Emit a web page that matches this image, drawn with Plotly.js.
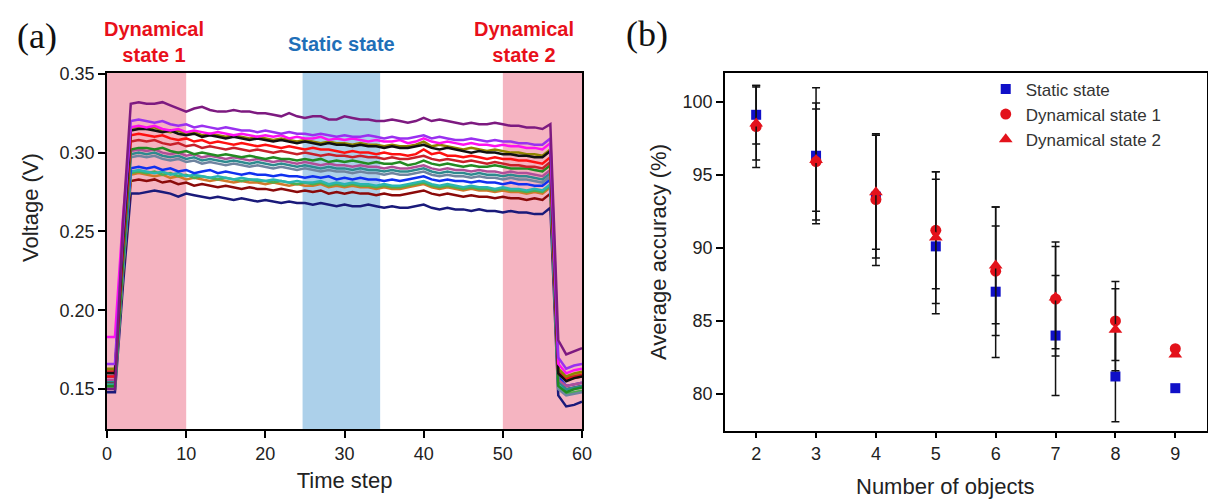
<!DOCTYPE html>
<html>
<head>
<meta charset="utf-8">
<script src="https://cdn.plot.ly/plotly-3.0.1.min.js"></script>
<style>html,body{margin:0;padding:0;background:#fff;}#chart{width:1208px;height:503px;}</style>
</head>
<body>
<div id="chart"></div>
<script>
// ---------- Panel (a): voltage vs time step ----------
const timeSteps = [0,1,2,3,4,5,6,7,8,9,10,11,12,13,14,15,16,17,18,19,20,21,22,23,24,25,26,27,28,29,30,31,32,33,34,35,36,37,38,39,40,41,42,43,44,45,46,47,48,49,50,51,52,53,54,55,56,57,58,59,60];

const vPurple = [0.150,0.150,0.255,0.331,0.332,0.331,0.331,0.332,0.330,0.328,
0.326,0.328,0.329,0.327,0.326,0.326,0.327,0.326,0.326,0.325,
0.325,0.324,0.323,0.325,0.323,0.322,0.323,0.323,0.321,0.321,
0.323,0.322,0.321,0.321,0.320,0.320,0.321,0.320,0.319,0.320,
0.322,0.320,0.321,0.320,0.319,0.318,0.319,0.318,0.318,0.319,
0.318,0.317,0.317,0.316,0.316,0.315,0.318,0.181,0.172,0.174,0.176];
const vViolet = [0.166,0.166,0.248,0.320,0.321,0.320,0.319,0.320,0.318,0.317,
0.318,0.316,0.317,0.316,0.315,0.316,0.315,0.314,0.314,0.313,
0.314,0.313,0.312,0.313,0.312,0.312,0.311,0.312,0.311,0.310,
0.311,0.310,0.310,0.311,0.310,0.309,0.310,0.309,0.309,0.310,
0.311,0.309,0.310,0.309,0.308,0.308,0.309,0.308,0.307,0.308,
0.307,0.307,0.306,0.306,0.305,0.305,0.309,0.170,0.163,0.165,0.166];
const vMagenta = [0.183,0.183,0.258,0.316,0.317,0.316,0.317,0.315,0.314,0.315,
0.313,0.314,0.313,0.312,0.313,0.312,0.311,0.312,0.311,0.310,
0.311,0.310,0.311,0.309,0.310,0.309,0.309,0.310,0.308,0.309,
0.308,0.309,0.308,0.307,0.308,0.307,0.307,0.308,0.306,0.307,
0.309,0.307,0.306,0.307,0.306,0.305,0.306,0.305,0.305,0.304,
0.305,0.304,0.304,0.303,0.303,0.302,0.306,0.166,0.160,0.162,0.163];
const vBlack = [0.160,0.160,0.243,0.314,0.315,0.315,0.314,0.313,0.314,0.312,
0.311,0.312,0.310,0.311,0.310,0.309,0.310,0.309,0.308,0.309,
0.308,0.307,0.308,0.307,0.306,0.307,0.306,0.305,0.306,0.305,
0.305,0.304,0.305,0.304,0.304,0.303,0.304,0.303,0.303,0.304,
0.305,0.303,0.302,0.303,0.302,0.301,0.300,0.301,0.300,0.300,
0.299,0.299,0.298,0.298,0.297,0.297,0.301,0.160,0.155,0.157,0.158];
const vOlive = [0.163,0.163,0.246,0.316,0.316,0.315,0.316,0.314,0.313,0.314,
0.312,0.313,0.311,0.312,0.311,0.310,0.311,0.310,0.309,0.310,
0.309,0.308,0.309,0.308,0.307,0.308,0.307,0.306,0.307,0.306,
0.306,0.305,0.306,0.305,0.305,0.304,0.305,0.304,0.304,0.305,
0.307,0.304,0.305,0.304,0.303,0.302,0.303,0.302,0.301,0.302,
0.301,0.300,0.300,0.299,0.299,0.298,0.302,0.163,0.158,0.160,0.161];
const vRed = [0.158,0.158,0.240,0.311,0.312,0.311,0.310,0.311,0.309,0.308,
0.309,0.307,0.308,0.306,0.307,0.306,0.305,0.306,0.305,0.304,
0.305,0.304,0.303,0.304,0.303,0.302,0.303,0.302,0.302,0.301,
0.300,0.301,0.300,0.300,0.299,0.300,0.299,0.299,0.298,0.299,
0.302,0.299,0.300,0.298,0.298,0.297,0.298,0.297,0.296,0.297,
0.296,0.296,0.295,0.295,0.294,0.293,0.297,0.160,0.156,0.157,0.158];
const vCrimson = [0.161,0.161,0.240,0.307,0.308,0.307,0.308,0.306,0.305,0.306,
0.304,0.305,0.303,0.304,0.303,0.302,0.303,0.302,0.301,0.302,
0.301,0.300,0.301,0.300,0.299,0.300,0.299,0.298,0.299,0.298,
0.298,0.297,0.298,0.297,0.297,0.296,0.297,0.296,0.296,0.297,
0.298,0.296,0.295,0.296,0.295,0.294,0.295,0.294,0.293,0.294,
0.293,0.292,0.292,0.291,0.291,0.290,0.294,0.161,0.157,0.158,0.159];
const vGreen = [0.152,0.152,0.230,0.302,0.303,0.303,0.302,0.303,0.301,0.300,
0.301,0.299,0.300,0.299,0.298,0.299,0.298,0.297,0.298,0.297,
0.296,0.297,0.296,0.296,0.295,0.296,0.295,0.296,0.294,0.295,
0.294,0.295,0.294,0.293,0.294,0.293,0.293,0.294,0.292,0.293,
0.295,0.293,0.292,0.293,0.292,0.291,0.292,0.291,0.291,0.292,
0.291,0.290,0.290,0.290,0.289,0.288,0.292,0.152,0.148,0.150,0.151];
const vOrchid = [0.156,0.156,0.232,0.301,0.302,0.301,0.302,0.300,0.299,0.300,
0.298,0.299,0.297,0.298,0.297,0.296,0.297,0.296,0.295,0.296,
0.295,0.294,0.295,0.294,0.293,0.294,0.293,0.292,0.293,0.292,
0.292,0.291,0.292,0.291,0.291,0.290,0.291,0.290,0.290,0.291,
0.292,0.290,0.289,0.290,0.289,0.289,0.288,0.289,0.288,0.288,
0.287,0.288,0.287,0.287,0.286,0.285,0.289,0.156,0.152,0.153,0.154];
const vTeal = [0.155,0.155,0.230,0.299,0.300,0.299,0.300,0.298,0.297,0.298,
0.296,0.297,0.295,0.296,0.295,0.294,0.295,0.294,0.293,0.294,
0.293,0.292,0.293,0.292,0.291,0.292,0.291,0.290,0.291,0.290,
0.290,0.289,0.290,0.289,0.289,0.288,0.289,0.288,0.288,0.289,
0.290,0.288,0.287,0.288,0.287,0.287,0.286,0.287,0.286,0.286,
0.285,0.286,0.285,0.285,0.284,0.283,0.287,0.155,0.150,0.151,0.152];
const vSlate = [0.150,0.150,0.226,0.297,0.298,0.297,0.298,0.296,0.295,0.296,
0.294,0.295,0.293,0.294,0.293,0.292,0.293,0.292,0.291,0.292,
0.291,0.290,0.291,0.290,0.289,0.290,0.289,0.288,0.289,0.288,
0.288,0.287,0.288,0.287,0.287,0.286,0.287,0.286,0.286,0.287,
0.288,0.286,0.285,0.286,0.285,0.285,0.284,0.285,0.284,0.284,
0.283,0.284,0.283,0.283,0.282,0.281,0.285,0.150,0.146,0.147,0.148];
const vBlue = [0.158,0.158,0.228,0.290,0.291,0.290,0.291,0.289,0.290,0.288,
0.289,0.287,0.288,0.289,0.287,0.288,0.287,0.286,0.287,0.286,
0.286,0.285,0.286,0.285,0.285,0.284,0.285,0.284,0.285,0.283,
0.284,0.283,0.284,0.283,0.283,0.282,0.283,0.282,0.283,0.284,
0.285,0.283,0.282,0.283,0.282,0.282,0.281,0.282,0.281,0.281,
0.280,0.281,0.280,0.280,0.279,0.279,0.283,0.158,0.152,0.153,0.154];
const vSeaGreen = [0.153,0.153,0.225,0.288,0.289,0.288,0.287,0.288,0.286,0.287,
0.285,0.286,0.285,0.284,0.285,0.284,0.283,0.284,0.283,0.283,
0.282,0.283,0.282,0.281,0.282,0.281,0.281,0.282,0.280,0.281,
0.280,0.281,0.280,0.280,0.279,0.280,0.279,0.279,0.280,0.281,
0.282,0.280,0.279,0.280,0.279,0.278,0.279,0.278,0.278,0.277,
0.278,0.277,0.277,0.276,0.277,0.276,0.280,0.153,0.149,0.150,0.151];
const vMidGreen = [0.151,0.151,0.223,0.287,0.288,0.287,0.288,0.286,0.287,0.285,
0.286,0.284,0.285,0.284,0.283,0.284,0.283,0.282,0.283,0.282,
0.282,0.281,0.282,0.281,0.280,0.281,0.280,0.281,0.279,0.280,
0.279,0.280,0.279,0.279,0.278,0.279,0.278,0.278,0.279,0.280,
0.281,0.279,0.278,0.279,0.278,0.277,0.278,0.277,0.277,0.276,
0.277,0.276,0.276,0.275,0.276,0.275,0.279,0.151,0.147,0.148,0.149];
const vOrange = [0.162,0.162,0.228,0.286,0.287,0.286,0.285,0.286,0.284,0.285,
0.283,0.284,0.283,0.282,0.283,0.282,0.281,0.282,0.281,0.281,
0.280,0.281,0.280,0.279,0.280,0.279,0.279,0.280,0.278,0.279,
0.278,0.279,0.278,0.278,0.277,0.278,0.277,0.277,0.278,0.279,
0.280,0.278,0.277,0.278,0.277,0.276,0.277,0.276,0.276,0.275,
0.276,0.275,0.275,0.274,0.275,0.274,0.278,0.162,0.158,0.159,0.160];
const vDarkRed = [0.154,0.154,0.222,0.282,0.283,0.282,0.283,0.281,0.282,0.280,
0.281,0.279,0.280,0.279,0.278,0.279,0.278,0.277,0.278,0.277,
0.277,0.276,0.277,0.276,0.275,0.276,0.275,0.276,0.274,0.275,
0.274,0.275,0.274,0.274,0.273,0.274,0.273,0.273,0.274,0.275,
0.276,0.274,0.273,0.274,0.273,0.272,0.273,0.272,0.272,0.271,
0.272,0.271,0.271,0.270,0.271,0.270,0.274,0.154,0.150,0.151,0.152];
const vNavy = [0.148,0.148,0.215,0.274,0.274,0.275,0.276,0.275,0.274,0.272,
0.274,0.273,0.272,0.271,0.272,0.271,0.270,0.271,0.270,0.269,
0.270,0.269,0.268,0.269,0.268,0.268,0.267,0.268,0.267,0.266,
0.267,0.266,0.266,0.267,0.266,0.265,0.266,0.265,0.265,0.266,
0.267,0.265,0.264,0.265,0.264,0.264,0.263,0.264,0.263,0.263,
0.262,0.263,0.262,0.262,0.261,0.261,0.265,0.146,0.139,0.140,0.142];

const voltageSeries = [vNavy, vDarkRed, vOrange, vMidGreen, vSeaGreen, vBlue, vSlate, vTeal, vOrchid, vGreen, vCrimson, vRed, vOlive, vBlack, vMagenta, vViolet, vPurple];
const voltageColors = ['#1a1a7a','#8b0a0a','#d2782a','#4caf50','#2ab5b0','#1030f0','#6f84a0','#2f8a8f','#b04f98','#228b22','#c8202a','#ff1010','#8f8400','#111111','#ff10f0','#9a30f0','#7d1a80'];

// Shaded regions (time-step ranges)
const regionDyn1 = [0, 10];
const regionStatic = [24.7, 34.5];
const regionDyn2 = [50, 60];

// ---------- Panel (b): accuracy vs number of objects ----------
const numObjects = [2,3,4,5,6,7,8,9];
const accStatic = [99.1, 96.3, 93.5, 90.1, 87.0, 84.0, 81.2, 80.4];
const errStatic = [2.0, 4.65, 4.2, 4.6, 4.5, 4.1, 3.1, 0];
const accDyn1 = [98.3, 95.9, 93.3, 91.2, 88.4, 86.5, 85.0, 83.1];
const errDyn1 = [2.8, 4.0, 4.5, 4.0, 4.4, 3.9, 2.7, 0];
const accDyn2 = [98.5, 96.0, 93.8, 90.7, 88.8, 86.6, 84.4, 82.7];
const errDyn2 = [2.5, 3.5, 3.9, 4.5, 4.0, 3.5, 2.8, 0];

const traces = [];
voltageSeries.forEach((ys, i) => {
  traces.push({
    type: 'scatter', mode: 'lines', x: timeSteps, y: ys,
    xaxis: 'x', yaxis: 'y', showlegend: false, hoverinfo: 'skip',
    line: {color: voltageColors[i], width: 2.5}
  });
});

const errStyle = (arr) => ({type: 'data', array: arr, visible: true, color: '#111', thickness: 1.5, width: 4});
traces.push({
  type: 'scatter', mode: 'markers', name: 'Static state', x: numObjects, y: accStatic,
  xaxis: 'x2', yaxis: 'y2', error_y: errStyle(errStatic),
  marker: {symbol: 'square', size: 10, color: '#1010c8'}
});
traces.push({
  type: 'scatter', mode: 'markers', name: 'Dynamical state 1', x: numObjects, y: accDyn1,
  xaxis: 'x2', yaxis: 'y2', error_y: errStyle(errDyn1),
  marker: {symbol: 'circle', size: 11, color: '#e3121b'}
});
traces.push({
  type: 'scatter', mode: 'markers', name: 'Dynamical state 2', x: numObjects, y: accDyn2,
  xaxis: 'x2', yaxis: 'y2', error_y: errStyle(errDyn2),
  marker: {symbol: 'triangle-up', size: 12, color: '#e3121b'}
});

const tickFont = {family: 'Arial, Liberation Sans, sans-serif', size: 18, color: '#222'};
const axisBase = {
  showline: true, linecolor: '#000', linewidth: 2, mirror: true,
  ticks: 'outside', ticklen: 7, tickwidth: 2, tickcolor: '#000',
  showgrid: false, zeroline: false, tickfont: tickFont, automargin: false
};
const titleFont = {family: 'Arial, Liberation Sans, sans-serif', size: 22, color: '#222'};
const redTxt = '#e8101a';
const blueTxt = '#1f6fb8';
const boldFont = (c) => ({family: 'Arial, Liberation Sans, sans-serif', size: 20, color: c, weight: 'bold'});

const shade = (r, color) => ({
  type: 'rect', xref: 'x', yref: 'y domain', x0: r[0], x1: r[1], y0: 0, y1: 1,
  fillcolor: color, line: {width: 0}, layer: 'below'
});

// helper for paper-positioned text given in pixel centres
const W = 1208, H = 503;
const txt = (text, px, py, font, extra) => Object.assign({
  text: text, xref: 'paper', yref: 'paper', x: px / W, y: 1 - py / H,
  xanchor: 'center', yanchor: 'middle', showarrow: false, font: font
}, extra || {});

const layout = {
  width: W, height: H,
  margin: {l: 0, r: 0, t: 0, b: 0},
  paper_bgcolor: '#fff', plot_bgcolor: 'rgba(0,0,0,0)',
  showlegend: true,
  xaxis: Object.assign({}, axisBase, {
    domain: [0.0886, 0.4818], range: [0, 60], tick0: 0, dtick: 10,
    title: {text: 'Time step', font: titleFont, standoff: 10}
  }),
  yaxis: Object.assign({}, axisBase, {
    domain: [0.1471, 0.8549], range: [0.1247, 0.3505], tick0: 0.15, dtick: 0.05,
    tickformat: '.2f'
  }),
  xaxis2: Object.assign({}, axisBase, {
    domain: [0.6002, 0.9992], range: [1.48, 9.53], tick0: 2, dtick: 1, anchor: 'y2', ticklen: 5
  }),
  yaxis2: Object.assign({}, axisBase, {
    domain: [0.1431, 0.8549], range: [77.47, 101.96], tick0: 80, dtick: 5, anchor: 'x2',
    title: {text: 'Average accuracy (%)', font: titleFont, standoff: 10}
  }),
  legend: {
    x: 0.816, y: 0.858, xanchor: 'left', yanchor: 'top',
    bgcolor: 'rgba(0,0,0,0)', borderwidth: 0,
    font: {family: 'Arial, Liberation Sans, sans-serif', size: 17, color: '#333'}
  },
  shapes: [
    shade(regionDyn1, '#f5b4c1'),
    shade(regionStatic, '#acd0ea'),
    shade(regionDyn2, '#f5b4c1')
  ],
  annotations: [
    txt('Voltage (V)', 31, 208, titleFont, {textangle: -90}),
    txt('Number of objects', 945, 486, titleFont),
    txt('(a)', 37, 36, {family: 'Liberation Serif, Times New Roman, serif', size: 36, color: '#111'}),
    txt('(b)', 647, 34, {family: 'Liberation Serif, Times New Roman, serif', size: 36, color: '#111'}),
    txt('Dynamical<br>state 1', 154, 42, boldFont(redTxt)),
    txt('Static state', 341, 44, boldFont(blueTxt)),
    txt('Dynamical<br>state 2', 524, 42, boldFont(redTxt))
  ]
};

Plotly.newPlot('chart', traces, layout, {displayModeBar: false, staticPlot: true});
</script>
</body>
</html>
